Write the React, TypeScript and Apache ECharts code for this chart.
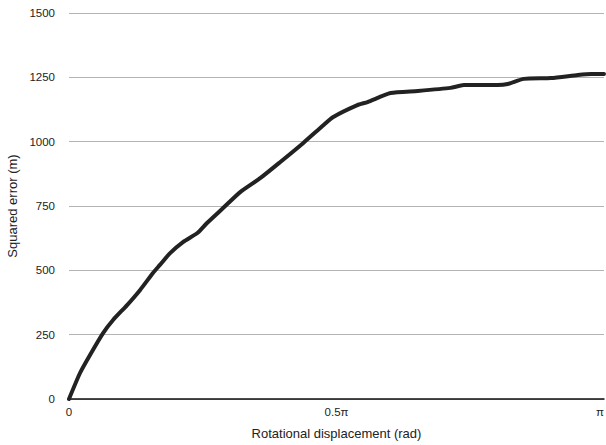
import React, { useEffect, useRef } from "react";
import * as echarts from "echarts";

// x in units of π (0 .. 1), y = squared error (m)
const xFrac = [0, 0.0206, 0.0393, 0.0637, 0.0824, 0.1086, 0.133, 0.157, 0.170, 0.189, 0.213, 0.240, 0.258, 0.288, 0.320, 0.358, 0.395, 0.438, 0.476, 0.494, 0.539, 0.558, 0.601, 0.652, 0.713, 0.738, 0.801, 0.820, 0.850, 0.901, 0.951, 0.976, 1.0];
const yErr = [0, 101, 171, 256, 307, 365, 424, 490, 521, 567, 610, 645, 684, 742, 804, 859, 921, 995, 1065, 1096, 1142, 1154, 1189, 1197, 1209, 1220, 1220, 1224, 1244, 1247, 1259, 1263, 1263];
const xTickLabels: Record<string, string> = { "0": "0", "0.5": "0.5π", "1": "π" };
const yTicks = [0, 250, 500, 750, 1000, 1250, 1500];

export default function App() {
  const ref = useRef<HTMLDivElement>(null);
  useEffect(() => {
    if (!ref.current) return;
    const chart = echarts.init(ref.current, null, { renderer: "svg" });
    const font = "'Liberation Sans', Arial, Helvetica, sans-serif";
    chart.setOption({
      animation: false,
      backgroundColor: "#ffffff",
      grid: { left: 69, right: 2, top: 13, bottom: 46, containLabel: false, outerBoundsMode: "none" },
      xAxis: {
        type: "value",
        min: 0,
        max: 1,
        interval: 0.5,
        name: "Rotational displacement (rad)",
        nameLocation: "middle",
        nameGap: 28,
        nameTextStyle: { fontFamily: font, fontSize: 13, color: "#222" },
        axisLine: { show: true, lineStyle: { color: "#111", width: 1.5 } },
        axisTick: { show: false },
        splitLine: { show: false },
        axisLabel: {
          margin: 7,
          fontFamily: font,
          fontSize: 11.5,
          color: "#222",
          alignMaxLabel: "right",
          formatter: (v: number) => xTickLabels[String(v)] ?? "",
        },
      },
      yAxis: {
        type: "value",
        min: yTicks[0],
        max: yTicks[yTicks.length - 1],
        interval: 250,
        name: "Squared error (m)",
        nameLocation: "middle",
        nameGap: 46,
        nameTextStyle: { fontFamily: font, fontSize: 13, color: "#222" },
        axisLine: { show: false },
        axisTick: { show: false },
        splitLine: { show: true, lineStyle: { color: "#b4b4b4", width: 1 } },
        axisLabel: {
          margin: 14,
          fontFamily: font,
          fontSize: 11.5,
          color: "#222",
          formatter: (v: number) => String(v),
        },
      },
      series: [
        {
          type: "line",
          data: xFrac.map((x, i) => [x, yErr[i]]),
          showSymbol: false,
          smooth: 0.2,
          lineStyle: { color: "#222222", width: 4, cap: "round", join: "round" },
          z: 3,
        },
      ],
    });
    return () => chart.dispose();
  }, []);
  return <div ref={ref} style={{ position: "fixed", left: 0, top: 0, width: 606, height: 445 }} />;
}
